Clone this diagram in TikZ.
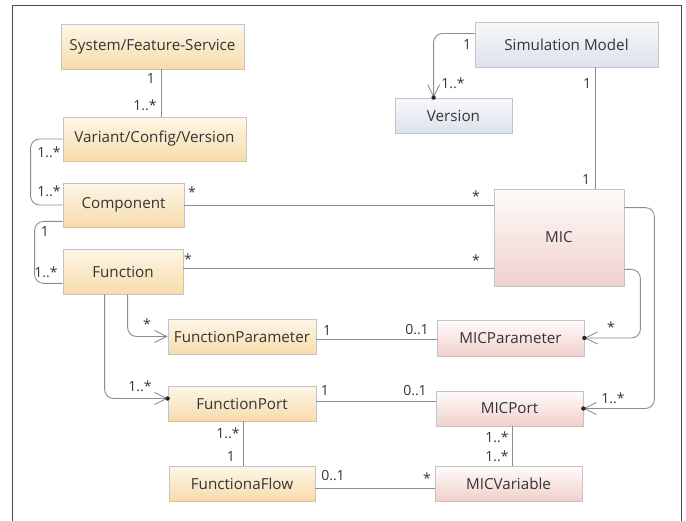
\documentclass[tikz,border=0pt]{standalone}
\usepackage{fontspec}
\setmainfont{Open Sans}
\usetikzlibrary{arrows.meta,calc}

\definecolor{peachtop}{HTML}{FDF6E8}
\definecolor{peachbot}{HTML}{F7DCAA}
\definecolor{bluetop}{HTML}{F6F8FB}
\definecolor{bluebot}{HTML}{DCE2EC}
\definecolor{pinktop}{HTML}{FFFBFB}
\definecolor{pinkbot}{HTML}{F1D0CC}
\definecolor{boxline}{HTML}{C4C4C4}
\definecolor{lineclr}{HTML}{8C8C8C}
\definecolor{txt}{HTML}{353535}
\definecolor{framecl}{HTML}{4A4A4A}

\begin{document}
\begin{tikzpicture}[x=1pt,y=-1pt,
  box/.style={draw=boxline, line width=0.8pt, inner sep=0pt, text=txt,
    font=\fontsize{15.2}{17}\selectfont},
  peach/.style={box, top color=peachtop, bottom color=peachbot},
  bluebox/.style={box, top color=bluetop, bottom color=bluebot},
  pinkbox/.style={box, top color=pinktop, bottom color=pinkbot},
  conn/.style={draw=lineclr, line width=0.9pt},
  roundconn/.style={conn, rounded corners=9pt},
  navi/.style={-{Straight Barb[length=12pt,width=12pt,line width=0.9pt]}},
  mult/.style={font=\fontsize{14}{15}\selectfont, text=txt, inner sep=0pt},
  owndot/.style={fill=black!85}
]
\useasboundingbox (0,0) rectangle (686,520);
\draw[framecl, line width=1pt] (12,5) rectangle (681,545);

% classes
\node[peach, minimum width=183pt, minimum height=45pt] (sfs) at (152.5,46.5) {System/Feature-Service};
\node[peach, minimum width=183pt, minimum height=44pt] (vcv) at (154.5,139) {Variant/Config/Version};
\node[peach, minimum width=121pt, minimum height=44pt] (comp) at (123.5,205) {Component};
\node[peach, minimum width=120pt, minimum height=45pt] (func) at (123,271.5) {Function};
\node[bluebox, minimum width=183pt, minimum height=45pt] (sim) at (566.5,44.5) {Simulation Model};
\node[bluebox, minimum width=117pt, minimum height=35pt] (ver) at (453.5,115.5) {Version};
\node[pinkbox, minimum width=130pt, minimum height=97pt] (mic) at (559,237.5) {MIC};
\node[pinkbox, minimum width=147pt, minimum height=36pt] (micp) at (510.5,338) {MICParameter};
\node[pinkbox, minimum width=147pt, minimum height=35pt] (micport) at (509.5,408.5) {MICPort};
\node[pinkbox, minimum width=147pt, minimum height=35pt] (micvar) at (508.5,483.5) {MICVariable};
\node[peach, minimum width=148pt, minimum height=35pt] (fpar) at (242,336.5) {FunctionParameter};
\node[peach, minimum width=148pt, minimum height=35pt] (fport) at (242,403.5) {FunctionPort};
\node[peach, minimum width=146pt, minimum height=35pt] (fflow) at (242,483.5) {FunctionaFlow};

% attachment points of the associations
\coordinate (sfsB) at ($(sfs.south)+(8.5,0)$);
\coordinate (simB) at ($(sim.south)+(28.5,0)$);
\coordinate (funcE) at ($(func.east)+(0,-3.5)$);
\coordinate (fparE) at ($(fpar.east)+(0,3)$);
\coordinate (fportE) at ($(fport.east)+(0,-2.5)$);
\coordinate (fflowE) at ($(fflow.east)+(0,4.5)$);
\coordinate (fportB) at ($(fport.south)+(1,0)$);
\coordinate (micportB) at ($(micport.south)+(2.5,0)$);
\coordinate (compL) at ($(comp.south west)+(0,-6)$);
\coordinate (funcL) at ($(func.south west)+(0,-11)$);
\coordinate (simL) at ($(sim.west)+(0,-11)$);
\coordinate (verT) at ($(ver.north west)+(39,0)$);
\coordinate (micR1) at ($(mic.north east)+(0,19)$);
\coordinate (micR2) at ($(mic.south east)+(0,-17)$);
\coordinate (funcB1) at ($(func.south west)+(42,0)$);
\coordinate (funcB2) at ($(func.south west)+(65,0)$);
\coordinate (fportL) at ($(fport.west)+(0,-5)$);

% straight associations
\draw[conn] (sfsB) -- (sfsB |- vcv.north);
\draw[conn] (comp.east) -- (comp.east -| mic.west);
\draw[conn] (funcE) -- (funcE -| mic.west);
\draw[conn] (simB) -- (simB |- mic.north);
\draw[conn] (fparE) -- (fparE -| micp.west);
\draw[conn] (fportE) -- (fportE -| micport.west);
\draw[conn] (fflowE) -- (fflowE -| micvar.west);
\draw[conn] (fportB) -- (fportB |- fflow.north);
\draw[conn] (micportB) -- (micportB |- micvar.north);

% rounded associations on the left
\draw[roundconn] (vcv.west) -- ++(-32,0) |- (comp.west);
\draw[roundconn] (compL) -- ++(-28,0) |- (funcL);

% navigable associations
\draw[roundconn, navi] (simL) -| (verT);
\fill[owndot] (verT) circle (2.2pt);
\draw[roundconn, navi] (micR2) -- ++(16,0) |- (micp.east);
\fill[owndot] (micp.east) circle (2.2pt);
\draw[roundconn, navi] (micR1) -- ++(30,0) |- (micport.east);
\fill[owndot] (micport.east) circle (2.2pt);
\draw[roundconn, navi] (funcB2) |- (fpar.west);
\draw[roundconn, navi] (funcB1) |- (fportL);
\fill[owndot] (fportL) circle (2.2pt);

% multiplicities
\node[mult] (m1) at (151,78) {1};
\node[mult] (m2) at (145,105) {1..*};
\node[mult] (m3) at (49,152) {1..*};
\node[mult] (m4) at (49,191) {1..*};
\node[mult] (m5) at (192,192) {*};
\node[mult] (m6) at (45,231) {1};
\node[mult] (m7) at (46,272) {1..*};
\node[mult] (m8) at (188,259) {*};
\node[mult] (m9) at (476,196) {*};
\node[mult] (m10) at (476,260) {*};
\node[mult] (m11) at (587,83) {1};
\node[mult] (m12) at (586,179) {1};
\node[mult] (m13) at (467,44) {1};
\node[mult] (m14) at (453,83) {1..*};
\node[mult] (m15) at (611,327) {*};
\node[mult] (m16) at (613,398) {1..*};
\node[mult] (m17) at (147,324) {*};
\node[mult] (m18) at (140,386) {1..*};
\node[mult] (m19) at (327,330) {1};
\node[mult] (m20) at (417,330) {0..1};
\node[mult] (m21) at (325,390) {1};
\node[mult] (m22) at (415,391) {0..1};
\node[mult] (m23) at (228,433) {1..*};
\node[mult] (m24) at (231,456) {1};
\node[mult] (m25) at (333,476) {0..1};
\node[mult] (m26) at (427,478) {*};
\node[mult] (m27) at (497,437) {1..*};
\node[mult] (m28) at (497,456) {1..*};
\end{tikzpicture}
\end{document}
